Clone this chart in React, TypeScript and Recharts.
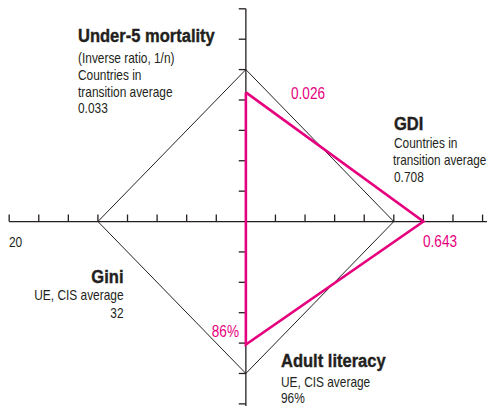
import React from "react";
import { ScatterChart, Scatter, XAxis, YAxis, ReferenceLine } from "recharts";

// arms of the diamond: up, right, down, left
const indicators = ["Under-5 mortality", "GDI", "Adult literacy", "Gini"];
const directions = [
  [0, 1],
  [1, 0],
  [0, -1],
  [-1, 0],
];
// distance from the centre, in tick steps
const averageSteps = [5, 5, 5, 5];
const countrySteps = [4.25, 6.0, 4.05, 0];

const xTicks = [-8, -7, -6, -5, -4, -3, -2, -1, 1, 2, 3, 4, 5, 6, 7, 8];
const yTicks = [-6, -5, -4, -3, -2, -1, 1, 2, 3, 4, 5, 6, 7];

const W = 487;
const H = 406;
const INK = "#231f20";
const PINK = "#e6007e";
const FONT = "'Liberation Sans', Arial, sans-serif";

const toPoints = (steps: number[]) => {
  const pts = steps.map((s, i) => ({ x: directions[i][0] * s, y: directions[i][1] * s, name: indicators[i] }));
  return [...pts, pts[0]];
};

const averagePts = toPoints(averageSteps);
const countryPts = toPoints(countrySteps);

const noDot = () => <g />;

type TxtProps = {
  x: number;
  y: number;
  size?: number;
  bold?: boolean;
  end?: boolean;
  fill?: string;
  sx?: number;
  children: React.ReactNode;
};

// squeezed horizontally to fake a condensed face
function Txt({ x, y, size = 14, bold, end, fill = INK, sx, children }: TxtProps) {
  const k = sx ?? (bold ? 0.87 : 0.85);
  return (
    <text
      transform={`translate(${x},${y}) scale(${k},1)`}
      fontSize={size}
      fontWeight={bold ? "bold" : "normal"}
      textAnchor={end ? "end" : "start"}
      fill={fill}
      stroke={bold ? fill : "none"}
      strokeWidth={bold ? 0.4 : 0}
    >
      {children}
    </text>
  );
}

export default function App() {
  return (
    <div style={{ position: "absolute", left: 0, top: 0, width: W, height: H, background: "#fff" }}>
      <ScatterChart width={W} height={H} margin={{ top: 0, right: 0, bottom: 0, left: 0 }}>
        <XAxis type="number" dataKey="x" domain={[-8.31, 8.15]} hide />
        <YAxis type="number" dataKey="y" domain={[-6.07, 7.29]} hide />
        <ReferenceLine segment={[{ x: -8, y: 0 }, { x: 8.15, y: 0 }]} stroke={INK} strokeWidth={1.3} />
        <ReferenceLine segment={[{ x: 0, y: 7 }, { x: 0, y: -6.07 }]} stroke={INK} strokeWidth={1.3} />
        {xTicks.map((t) => (
          <ReferenceLine key={`xt${t}`} segment={[{ x: t, y: 0 }, { x: t, y: 0.23 }]} stroke={INK} strokeWidth={1.3} />
        ))}
        {yTicks.map((t) => (
          <ReferenceLine key={`yt${t}`} segment={[{ x: -0.24, y: t }, { x: 0, y: t }]} stroke={INK} strokeWidth={1.3} />
        ))}
        <Scatter
          data={averagePts}
          line={{ stroke: INK, strokeWidth: 1 }}
          lineType="joint"
          shape={noDot}
          isAnimationActive={false}
        />
        <Scatter
          data={countryPts}
          line={{ stroke: PINK, strokeWidth: 2.6 }}
          lineType="joint"
          shape={noDot}
          isAnimationActive={false}
        />
      </ScatterChart>
      <svg width={W} height={H} style={{ position: "absolute", left: 0, top: 0, pointerEvents: "none" }} fontFamily={FONT}>
        <Txt x={78} y={42} size={19} bold>Under-5 mortality</Txt>
        <Txt x={78} y={63}>(Inverse ratio, 1/n)</Txt>
        <Txt x={78} y={80}>Countries in</Txt>
        <Txt x={78} y={96.5}>transition average</Txt>
        <Txt x={78} y={113}>0.033</Txt>

        <Txt x={394} y={130} size={19} bold>GDI</Txt>
        <Txt x={394} y={148}>Countries in</Txt>
        <Txt x={393} y={165} sx={0.84}>transition average</Txt>
        <Txt x={394} y={181.5}>0.708</Txt>

        <Txt x={9} y={246.5}>20</Txt>

        <Txt x={123.5} y={282.5} size={19} bold end>Gini</Txt>
        <Txt x={123.5} y={300} end>UE, CIS average</Txt>
        <Txt x={123.5} y={318} end>32</Txt>

        <Txt x={281} y={366.5} size={19} bold>Adult literacy</Txt>
        <Txt x={281} y={386.5}>UE, CIS average</Txt>
        <Txt x={281} y={403}>96%</Txt>

        <Txt x={291} y={99} size={16} fill={PINK}>0.026</Txt>
        <Txt x={423} y={246.5} size={16} fill={PINK}>0.643</Txt>
        <Txt x={239} y={336.5} size={16} fill={PINK} end>86%</Txt>
      </svg>
    </div>
  );
}
